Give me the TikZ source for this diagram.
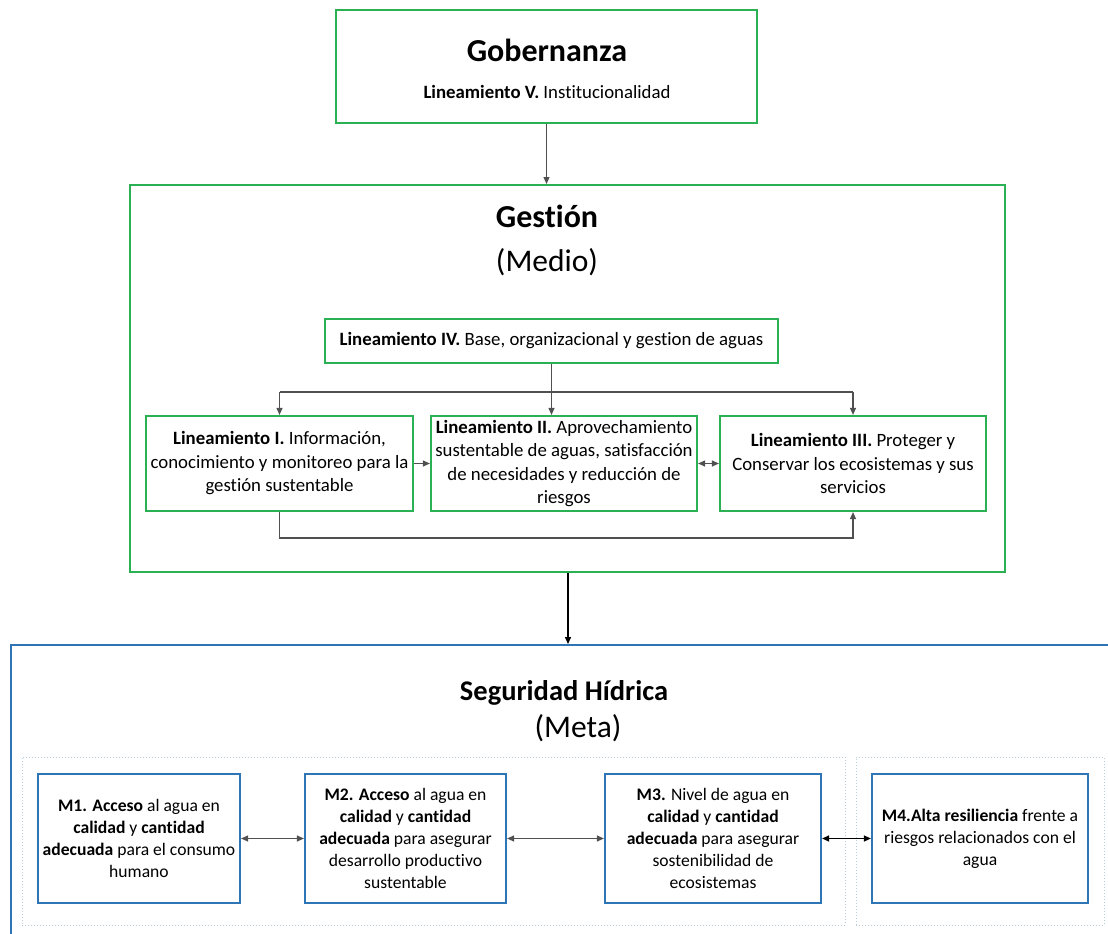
\documentclass[tikz,border=0pt]{standalone}
\usepackage{fontspec}
\setmainfont{Carlito}[Ligatures={NoCommon}]
\usetikzlibrary{arrows.meta}
\definecolor{gr}{RGB}{44,176,84}
\definecolor{bl}{RGB}{46,117,182}
\definecolor{dotc}{RGB}{185,205,218}
\definecolor{arr}{RGB}{80,80,80}
\tikzset{
  gbox/.style={draw=gr, line width=2.2pt, minimum width=#1, inner sep=0pt, align=center, font=\fontsize{18.8}{23.5}\selectfont},
  bbox/.style={draw=bl, line width=2.2pt, minimum width=#1, minimum height=129pt, inner sep=0pt, align=center, font=\fontsize{17.6}{22}\selectfont},
  frame/.style={draw=#1, line width=2pt, inner sep=0pt},
  dotbox/.style={draw=dotc, dotted, line width=1pt, inner sep=0pt},
  conn/.style={draw=arr, line width=1.1pt, -{Triangle[length=7pt,width=6pt]}},
  dconn/.style={draw=arr, line width=1.1pt, {Triangle[length=7pt,width=6pt]}-{Triangle[length=7pt,width=6pt]}},
  plain/.style={draw=arr, line width=1.1pt},
  ttl/.style={font=\fontsize{32}{36}\selectfont\bfseries, inner sep=0pt},
  sub/.style={font=\fontsize{31.5}{34}\selectfont, inner sep=0pt}
}
\begin{document}
\begin{tikzpicture}[x=1pt,y=-1pt]
\useasboundingbox (0,0) rectangle (1108,934);
\clip (0,0) rectangle (1108,934);
% containers
\node[frame=gr, minimum width=421pt, minimum height=113pt] (gob) at (546.5,66.5) {};
\node[ttl] (gobt) at (547,50) {Gobernanza};
\node[font=\fontsize{18.8}{22}\selectfont, inner sep=0pt] (gobl) at (547,92) {\textbf{Lineamiento V.} Institucionalidad};

\node[frame=gr, minimum width=875pt, minimum height=387pt] (gest) at (567.5,378.5) {};
\node[ttl] (gestt) at (547,216) {Gestión};
\node[sub] (gests) at (547,262) {(Medio)};

\node[frame=bl, minimum width=1110pt, minimum height=300pt, anchor=north west] (seg) at (10,644) {};
\node[ttl, font=\fontsize{28.5}{34}\selectfont\bfseries] (segt) at (564,693) {Seguridad Hídrica};
\node[sub] (segs) at (578,728) {(Meta)};

\node[dotbox, minimum width=823pt, minimum height=168pt] (d1) at (433.5,841) {};
\node[dotbox, minimum width=248pt, minimum height=168pt] (d2) at (980,841) {};

% lineamientos
\node[gbox=453pt, minimum height=44pt] (l4) at (551.5,341) {\textbf{Lineamiento IV.} Base, organizacional y gestion de aguas};
\node[gbox=267pt, minimum height=95pt] (l1) at (279.5,463.5) {\textbf{Lineamiento I.} Información,\\conocimiento y monitoreo para la\\gestión sustentable};
\node[gbox=266pt, minimum height=95pt] (l2) at (564,463.5) {\textbf{Lineamiento II.} Aprovechamiento\\sustentable de aguas, satisfacción\\de necesidades y reducción de\\riesgos};
\node[gbox=266pt, minimum height=95pt] (l3) at (853,463.5) {\textbf{Lineamiento III.} Proteger y\\Conservar los ecosistemas y sus\\servicios};

% metas
\node[bbox=202pt] (m1) at (139,838.5) {\textbf{M1. Acceso} al agua en\\\textbf{calidad} y \textbf{cantidad}\\\textbf{adecuada} para el consumo\\humano};
\node[bbox=201pt] (m2) at (405.5,838.5) {\textbf{M2. Acceso} al agua en\\\textbf{calidad} y \textbf{cantidad}\\\textbf{adecuada} para asegurar\\desarrollo productivo\\sustentable};
\node[bbox=216pt] (m3) at (713,838.5) {\textbf{M3.} Nivel de agua en\\\textbf{calidad} y \textbf{cantidad}\\\textbf{adecuada} para asegurar\\sostenibilidad de\\ecosistemas};
\node[bbox=216pt] (m4) at (980,838.5) {\textbf{M4.Alta resiliencia} frente a\\riesgos relacionados con el\\agua};

% connectors
\draw[conn] (gob.south) -- (gob.south |- gest.north);
\draw[conn, draw=black, line width=1.4pt] (gest.south -| 568,0) -- (568,0 |- seg.north);

\coordinate (dl) at (l1.north |- 0,392);
\coordinate (dr) at (l3.north |- 0,392);
\draw[plain] (dl) -- (dr);
\draw[conn] (dl) -- (l1.north);
\draw[conn] (dr) -- (l3.north);
\draw[conn] (l4.south) -- (l4.south |- l2.north);
\coordinate (fb) at (l1.south |- 0,538);
\draw[conn] (l1.south) -- (fb) -| (l3.south);
\draw[conn] (l1.east) -- (l2.west);
\draw[dconn] (l2.east) -- (l3.west);

\draw[dconn] (m1.east) -- (m2.west);
\draw[dconn] (m2.east) -- (m3.west);
\draw[dconn, draw=black, line width=1.4pt] (m3.east) -- (m4.west);
\end{tikzpicture}
\end{document}
